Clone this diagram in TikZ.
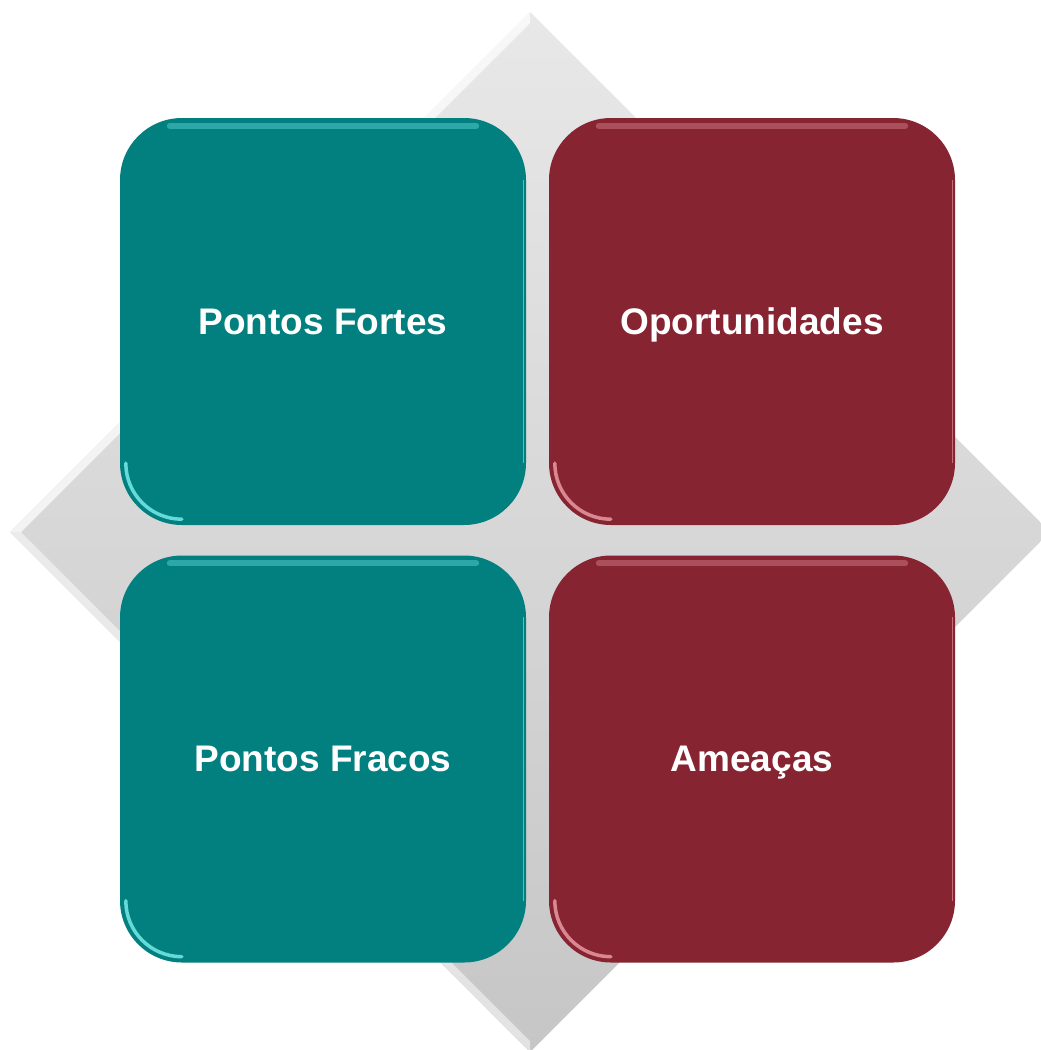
\documentclass[tikz,border=0pt]{standalone}
\usepackage{fontspec}
\setmainfont{Liberation Sans}
\usetikzlibrary{calc}
\definecolor{tealbox}{HTML}{028080}
\definecolor{redbox}{HTML}{862432}
\definecolor{tealhi}{HTML}{7FF0F0}
\definecolor{redhi}{HTML}{F0A0AA}
\definecolor{diamtop}{HTML}{E8E8E8}
\definecolor{diambot}{HTML}{C6C6C6}
\tikzset{
  swot/.style={draw=none, rounded corners=62pt, minimum width=406pt, minimum height=407pt,
    text=white, font=\fontsize{37}{44}\selectfont\bfseries, inner sep=0pt,
    text height=27pt, text depth=2pt},
  tophi/.style={line width=6pt, opacity=0.35, line cap=round},
  cornerhi/.style={line width=3.5pt, opacity=0.8, line cap=round},
  sidehi/.style={line width=1.5pt, opacity=0.6}
}
\newcommand{\boxhighlights}[2]{%
  \draw[tophi, #2] ($(#1.north west)+(50,8)$) -- ($(#1.north east)+(-50,8)$);
  \draw[cornerhi, #2] ($(#1.south west)+(6,-62)$) arc[start angle=180, end angle=270, radius=56pt];
  \draw[sidehi, #2] ($(#1.north east)+(-2.5,62)$) -- ($(#1.south east)+(-2.5,-62)$);
}
\begin{document}
\begin{tikzpicture}[x=1pt, y=-1pt]
  \useasboundingbox (0,0) rectangle (1041,1050);
  \clip (0,0) rectangle (1041,1050);
  % background diamond
  \coordinate (dt) at (530,12);
  \coordinate (dl) at (10,532);
  \coordinate (db) at (530,1052);
  \coordinate (dr) at (1050,532);
  \shade[top color=diamtop, bottom color=diambot] (dt) -- (dr) -- (db) -- (dl) -- cycle;
  \fill[white, opacity=0.7] (dl) -- (dt) -- ($(dt)+(0,11)$) -- ($(dl)+(11,0)$) -- cycle;
  \fill[white, opacity=0.5] (dl) -- ($(dl)+(11,0)$) -- ($(db)+(0,-11)$) -- (db) -- cycle;
  % boxes
  \node[swot, fill=tealbox] (pf) at (323,321.5) {Pontos Fortes};
  \node[swot, fill=redbox]  (op) at (752,321.5) {Oportunidades};
  \node[swot, fill=tealbox] (pw) at (323,759) {Pontos Fracos};
  \node[swot, fill=redbox]  (am) at (752,759) {Ameaças};
  \boxhighlights{pf}{tealhi}
  \boxhighlights{pw}{tealhi}
  \boxhighlights{op}{redhi}
  \boxhighlights{am}{redhi}
\end{tikzpicture}
\end{document}
